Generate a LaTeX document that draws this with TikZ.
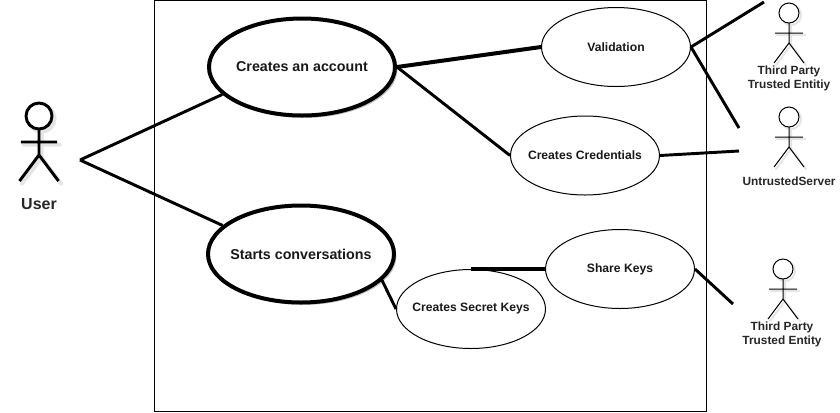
\documentclass[tikz,border=0pt]{standalone}
\usepackage{fontspec}
\setmainfont{Liberation Sans}
\usetikzlibrary{shapes.geometric,shadows}
\newdimen\pxu \pxu=0.75pt
\newcommand{\casetext}[1]{\makebox[0pt]{#1}}
\tikzset{
  softshadow/.style={drop shadow={shadow xshift=1.8pt,shadow yshift=-1.8pt,fill=black,opacity=0.25}},
  bigcase/.style={ellipse,draw=black,line width=3pt,fill=white,inner sep=0pt,minimum width=186\pxu,minimum height=97\pxu,text=black!90,font=\fontsize{10.7pt}{12pt}\selectfont\bfseries,softshadow},
  smallcase/.style={ellipse,draw=black,line width=0.75pt,fill=white,inner sep=0pt,minimum width=149\pxu,minimum height=79\pxu,text=black!90,font=\fontsize{9.1pt}{10pt}\selectfont\bfseries},
  wire/.style={draw=black,line width=2.2pt},
  heavywire/.style={draw=black,line width=3pt},
  framebox/.style={draw=black,line width=0.75pt,fill=white,rectangle,inner sep=0pt,minimum width=552\pxu,minimum height=411\pxu},
  actorlabel/.style={align=center,font=\fontsize{8.9pt}{10.5pt}\selectfont\bfseries,text=black!85,inner sep=0pt},
  userlabel/.style={font=\fontsize{12pt}{13pt}\selectfont\bfseries,text=black!85,inner sep=0pt},
  pics/stick/.style args={#1/#2}{code={
    \begin{scope}[scale=#1]
      \begin{scope}[shift={(2,2)}]
        \draw[black,opacity=0.1,line width=#2+0.8pt,line cap=round] (0,0) circle (10) (0,10)--(0,30) (-14,20)--(14,20) (0,30)--(-15,50) (0,30)--(15,50);
      \end{scope}
      \draw[black,line width=#2,fill=white] (0,0) circle (10);
      \draw[black,line width=#2] (0,10)--(0,30) (-14,20)--(14,20) (0,30)--(-15,50) (0,30)--(15,50);
    \end{scope}}},
}
\begin{document}
\begin{tikzpicture}[x=0.75pt,y=-0.75pt]
\useasboundingbox (0,0) rectangle (840,412);
\node[framebox] (frame) at (430,205.5) {};

\coordinate (hub) at (80,160);
\coordinate (tpTop) at (764,2);
\coordinate (srvA) at (739,128);
\coordinate (srvB) at (739,151);
\coordinate (tpLow) at (733,304);

\node[smallcase] (validation) at (616,47) {\casetext{Validation}};
\node[smallcase] (credentials) at (585,155.5) {\casetext{Creates Credentials}};
\node[smallcase] (secret) at (471,309) {\casetext{Creates Secret Keys}};
\node[smallcase] (share) at (620,269) {\casetext{Share Keys}};
\node[bigcase] (account) at (302,67) {\casetext{Creates an account}};
\node[bigcase] (conv) at (301,254) {\casetext{Starts conversations}};

\draw[wire] (hub) -- (account.199);
\draw[wire] (hub) -- (conv.160);
\draw[heavywire] (account.east) -- (validation.west);
\draw[wire] (account.east) -- (credentials.west);
\draw[wire] (validation.east) -- (tpTop);
\draw[wire] (validation.east) -- (srvA);
\draw[wire] (credentials.east) -- (srvB);
\draw[wire] (conv.342) -- (secret.west);
\draw[heavywire] (secret.north) -- (share.west);
\draw[wire] (share.east) -- (tpLow);

\pic at (39,116) {stick=1.3/2.2pt};
\pic at (789,13) {stick=1/0.75pt};
\pic at (789,117) {stick=1/0.75pt};
\pic at (783,269) {stick=1/0.75pt};

\node[userlabel] (userName) at (39,204.5) {User};
\node[actorlabel] (tpName) at (789,78) {Third Party\\Trusted Entitiy};
\node[actorlabel] (srvName) at (789,181) {UntrustedServer};
\node[actorlabel] (tpLowName) at (782,334) {Third Party\\Trusted Entity};
\end{tikzpicture}
\end{document}
